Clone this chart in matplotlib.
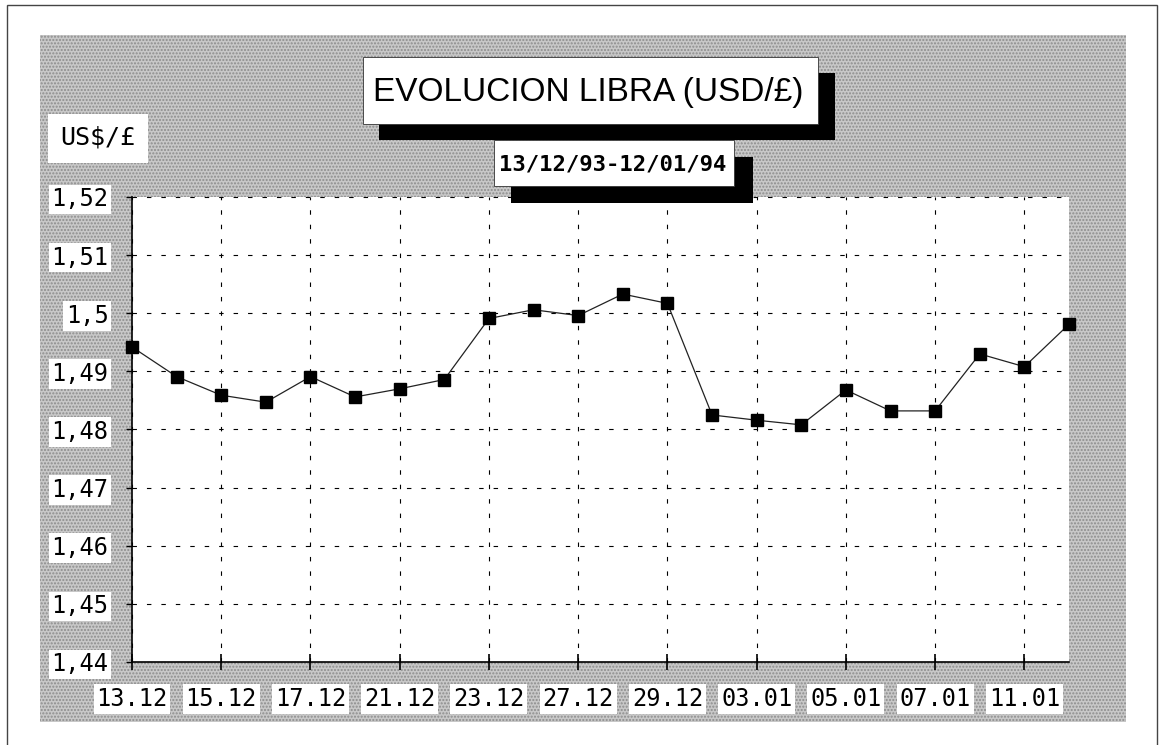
import matplotlib
matplotlib.use("Agg")
import matplotlib.pyplot as plt
from matplotlib.patches import Rectangle
import numpy as np

# cotizacion diaria USD/GBP
rates = [1.4942, 1.4891, 1.4859, 1.4847, 1.4891, 1.4856, 1.4870, 1.4886,
         1.4991, 1.5006, 1.4996, 1.5033, 1.5017, 1.4825, 1.4816, 1.4808,
         1.4868, 1.4832, 1.4832, 1.4930, 1.4908, 1.4981]
date_labels = ['13.12', '15.12', '17.12', '21.12', '23.12', '27.12',
               '29.12', '03.01', '05.01', '07.01', '11.01']
y_ticks = [1.44, 1.45, 1.46, 1.47, 1.48, 1.49, 1.50, 1.51, 1.52]
y_labels = ['1,44', '1,45', '1,46', '1,47', '1,48', '1,49', '1,5', '1,51', '1,52']

W, H = 1163, 745
fig = plt.figure(figsize=(W / 100, H / 100), dpi=100)
fig.patch.set_facecolor('white')

def px_rect(x0, y0, x1, y1, **kw):
    # rectangle given in pixel coords (origin top left)
    r = Rectangle((x0 / W, 1 - y1 / H), (x1 - x0) / W, (y1 - y0) / H,
                  transform=fig.transFigure, **kw)
    fig.patches.append(r)
    return r

# fondo punteado
px_rect(40, 35, 1126, 722, facecolor='#c8c8c8', edgecolor='#8c8c8c',
        hatch='.....', linewidth=0, zorder=-5)
# marco exterior
px_rect(7, 5, 1157, 760, facecolor='none', edgecolor='#444444',
        linewidth=1.0, zorder=-4)

ax = fig.add_axes([132 / W, 1 - 662 / H, 937 / W, 465 / H])
ax.set_facecolor('white')

x = np.arange(len(rates))
ax.plot(x, rates, color='#222222', linewidth=0.9, marker='s',
        markersize=9, markerfacecolor='black', markeredgecolor='black',
        zorder=3, clip_on=False)

ax.set_xlim(0, len(rates) - 1)
ax.set_ylim(1.44, 1.52)
ax.set_xticks(x[::2])
ax.set_xticklabels(date_labels)
ax.set_yticks(y_ticks)
ax.set_yticklabels(y_labels)

ax.grid(True, color='black', linestyle=(0, (4, 9)), linewidth=0.8)
for s in ['top', 'right']:
    ax.spines[s].set_visible(False)
for s in ['left', 'bottom']:
    ax.spines[s].set_color('black')
    ax.spines[s].set_linewidth(1.2)

ax.tick_params(axis='x', direction='inout', length=12, width=1.2, pad=12,
               labelsize=17)
ax.tick_params(axis='y', direction='out', length=4, width=1.0, pad=13,
               labelsize=17)
for lab in ax.get_xticklabels() + ax.get_yticklabels():
    lab.set_family('DejaVu Sans Mono')
    lab.set_bbox(dict(facecolor='white', edgecolor='none', pad=2))

# etiqueta eje y
fig.text(98 / W, 1 - 138 / H, 'US$/£', family='DejaVu Sans Mono',
         fontsize=18, ha='center', va='center',
         bbox=dict(facecolor='white', edgecolor='none', pad=9))

# titulo con sombra
px_rect(379, 73, 835, 140, facecolor='black', edgecolor='none', zorder=5)
px_rect(363, 57, 818, 124, facecolor='white', edgecolor='#333333',
        linewidth=0.6, zorder=6)
fig.text(588 / W, 1 - 92 / H, 'EVOLUCION LIBRA (USD/£)',
         family='Liberation Sans', fontsize=24, ha='center', va='center',
         zorder=7)

# subtitulo con sombra
px_rect(511, 157, 753, 203, facecolor='black', edgecolor='none', zorder=5)
px_rect(494, 140, 734, 186, facecolor='white', edgecolor='#333333',
        linewidth=0.6, zorder=6)
fig.text(613 / W, 1 - 164 / H, '13/12/93-12/01/94',
         family='DejaVu Sans Mono', fontsize=16, fontweight='bold',
         ha='center', va='center', zorder=7)

fig.savefig('out.png', dpi=100)
